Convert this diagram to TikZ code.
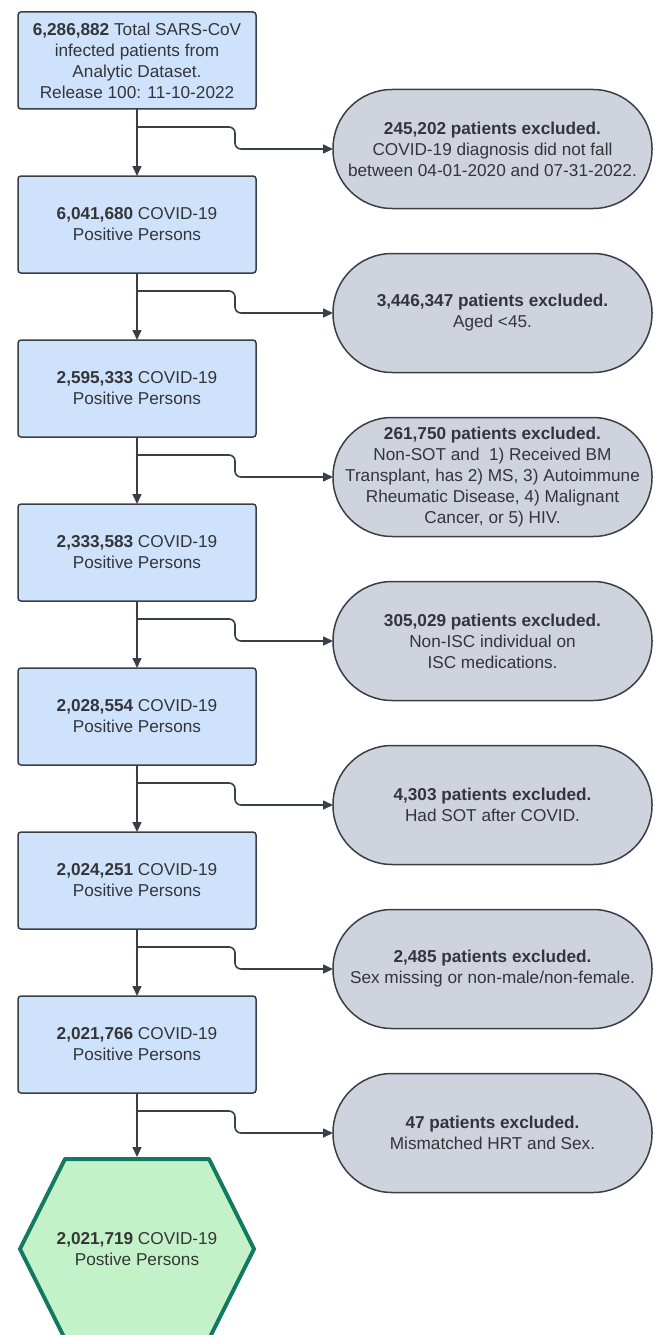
\documentclass[tikz,border=0pt]{standalone}
\usepackage{fontspec}
\setmainfont{Liberation Sans}
\usepackage{tikz}
\usetikzlibrary{arrows.meta,positioning,backgrounds,calc}

\definecolor{boxblue}{RGB}{207,226,252}
\definecolor{exclgray}{RGB}{206,211,222}
\definecolor{finfill}{RGB}{196,242,200}
\definecolor{findraw}{RGB}{18,122,96}
\definecolor{edge}{RGB}{58,62,70}
\definecolor{txt}{RGB}{52,53,57}

\begin{document}
\begin{tikzpicture}[
  x=1pt, y=1pt,
  >={Triangle[length=10pt,width=9pt]}, font=\fontsize{17.2}{21}\selectfont, text=txt,
  box/.style={rectangle, rounded corners=3pt, draw=edge, fill=boxblue, line width=1.5pt, align=center, minimum width=238pt, minimum height=97pt, inner sep=0pt, outer sep=0pt},
  excl/.style={rectangle, rounded corners=59pt, draw=edge, fill=exclgray, line width=1.5pt, align=center, minimum width=319pt, minimum height=119pt, inner sep=0pt, outer sep=0pt},
  final/.style={rectangle, align=center, minimum width=234pt, minimum height=180pt, inner sep=0pt, outer sep=0pt},
  hexline/.style={draw=findraw, fill=finfill, line width=4pt, line join=round},
  flow/.style={->, draw=edge, line width=1.6pt},
  split/.style={flow, rounded corners=6pt}
]
\useasboundingbox (0,0) rectangle (656,-1335);

\node[box] (b1) at (137,-60.5) {\textbf{6,286,882} Total SARS-CoV\\infected patients from\\Analytic Dataset.\\Release 100: 11-10-2022};
\node[box, below=67pt of b1] (b2) {\textbf{6,041,680} COVID-19\\Positive Persons};
\node[box, below=67pt of b2] (b3) {\textbf{2,595,333} COVID-19\\Positive Persons};
\node[box, below=67pt of b3] (b4) {\textbf{2,333,583} COVID-19\\Positive Persons};
\node[box, below=67pt of b4] (b5) {\textbf{2,028,554} COVID-19\\Positive Persons};
\node[box, below=67pt of b5] (b6) {\textbf{2,024,251} COVID-19\\Positive Persons};
\node[box, below=67pt of b6] (b7) {\textbf{2,021,766} COVID-19\\Positive Persons};
\node[final, below=66pt of b7] (fin) {\textbf{2,021,719} COVID-19\\Postive Persons};
\begin{scope}[on background layer]
\filldraw[hexline] (fin.west) -- ($(fin.north west)+(45,0)$) -- ($(fin.north east)+(-45,0)$) -- (fin.east)
  -- ($(fin.south east)+(-45,0)$) -- ($(fin.south west)+(45,0)$) -- cycle;
\end{scope}

\node[excl, anchor=west] (x1) at ($(b1.south)+(196,-40)$) {\textbf{245,202 patients excluded.}\\COVID-19 diagnosis did not fall\\between 04-01-2020 and 07-31-2022.};
\node[excl, anchor=west] (x2) at ($(b2.south)+(196,-40)$) {\textbf{3,446,347 patients excluded.}\\Aged <45.};
\node[excl, anchor=west] (x3) at ($(b3.south)+(196,-40)$) {\textbf{261,750 patients excluded.}\\Non-SOT and\ \ 1) Received BM\\Transplant, has 2) MS, 3) Autoimmune\\Rheumatic Disease, 4) Malignant\\Cancer, or 5) HIV.};
\node[excl, anchor=west] (x4) at ($(b4.south)+(196,-40)$) {\textbf{305,029 patients excluded.}\\Non-ISC individual on\\ISC medications.};
\node[excl, anchor=west] (x5) at ($(b5.south)+(196,-40)$) {\textbf{4,303 patients excluded.}\\Had SOT after COVID.};
\node[excl, anchor=west] (x6) at ($(b6.south)+(196,-40)$) {\textbf{2,485 patients excluded.}\\Sex missing or non-male/non-female.};
\node[excl, anchor=west] (x7) at ($(b7.south)+(196,-40)$) {\textbf{47 patients excluded.}\\Mismatched HRT and Sex.};

\draw[flow] (b1) -- (b2);
\draw[flow] (b2) -- (b3);
\draw[flow] (b3) -- (b4);
\draw[flow] (b4) -- (b5);
\draw[flow] (b5) -- (b6);
\draw[flow] (b6) -- (b7);
\draw[flow] (b7) -- ($(fin.north)+(0,2)$);

\draw[split] ($(b1.south)+(0,-18)$) -- ++(98,0) |- (x1.west);
\draw[split] ($(b2.south)+(0,-18)$) -- ++(98,0) |- (x2.west);
\draw[split] ($(b3.south)+(0,-18)$) -- ++(98,0) |- (x3.west);
\draw[split] ($(b4.south)+(0,-18)$) -- ++(98,0) |- (x4.west);
\draw[split] ($(b5.south)+(0,-18)$) -- ++(98,0) |- (x5.west);
\draw[split] ($(b6.south)+(0,-18)$) -- ++(98,0) |- (x6.west);
\draw[split] ($(b7.south)+(0,-18)$) -- ++(98,0) |- (x7.west);
\end{tikzpicture}
\end{document}
